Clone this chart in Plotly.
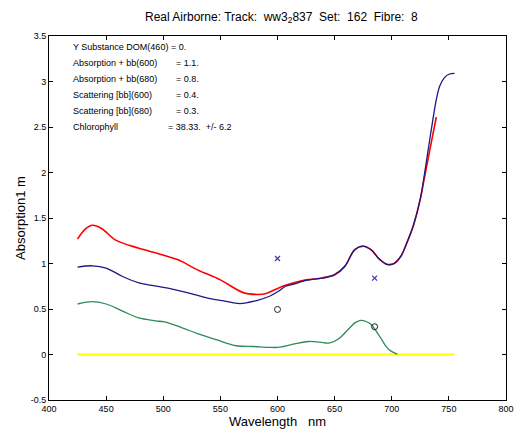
import plotly.graph_objects as go

# ---- data ----
red_wl = [425, 432, 438, 446, 458, 478, 498, 513, 530, 550, 570, 583, 590, 599, 607, 615, 625, 639, 650, 659, 667.5, 675, 682, 689, 696, 702, 708, 713, 719, 725, 729, 733.5, 739]
red_y = [1.27, 1.38, 1.42, 1.385, 1.26, 1.17, 1.10, 1.04, 0.93, 0.82, 0.68, 0.66, 0.67, 0.72, 0.76, 0.79, 0.82, 0.84, 0.88, 0.97, 1.15, 1.19, 1.15, 1.05, 0.99, 1.00, 1.08, 1.22, 1.42, 1.71, 1.97, 2.26, 2.61]

blue_wl = [425, 438, 450, 464, 478, 490, 507, 521, 541, 553, 567, 581, 593, 601.5, 607, 615, 625, 639, 650, 659, 667.5, 675, 682, 689, 696, 702, 708, 713, 719, 725, 728, 732, 736, 739, 742, 746, 750, 755]
blue_y = [0.96, 0.975, 0.95, 0.86, 0.79, 0.76, 0.72, 0.68, 0.615, 0.59, 0.56, 0.59, 0.64, 0.70, 0.75, 0.775, 0.815, 0.84, 0.875, 0.97, 1.15, 1.19, 1.15, 1.05, 0.99, 1.00, 1.08, 1.22, 1.42, 1.71, 1.93, 2.26, 2.58, 2.80, 2.95, 3.04, 3.08, 3.09]

green_wl = [425, 438, 450, 464, 478, 493, 501, 516, 530, 547, 564, 579, 593, 602, 616, 627, 637, 645, 653, 662, 668, 673, 678, 682, 690, 695, 699, 705]
green_y = [0.555, 0.58, 0.555, 0.48, 0.405, 0.37, 0.358, 0.296, 0.23, 0.16, 0.096, 0.088, 0.078, 0.08, 0.12, 0.143, 0.135, 0.125, 0.168, 0.277, 0.35, 0.375, 0.36, 0.33, 0.187, 0.09, 0.04, 0.005]

zero_wl = [425, 755]
zero_y = [0, 0]

x_marks_wl = [600, 685]
x_marks_y = [1.055, 0.84]
o_marks_wl = [600, 685]
o_marks_y = [0.495, 0.305]

info_labels = ["Y Substance DOM(460) = 0.", "Absorption + bb(600)", "Absorption + bb(680)",
               "Scattering [bb](600)", "Scattering [bb](680)", "Chlorophyll"]
info_values = ["", "= 1.1.", "= 0.8.", "= 0.4.", "= 0.3.", "= 38.33.  +/- 6.2"]

x_ticks = [400, 450, 500, 550, 600, 650, 700, 750, 800]
y_ticks = [-0.5, 0, 0.5, 1, 1.5, 2, 2.5, 3, 3.5]

FONT = "Liberation Sans, Arial, sans-serif"

fig = go.Figure()
fig.add_trace(go.Scatter(x=zero_wl, y=zero_y, mode="lines",
                         line=dict(color="#ffff00", width=2), showlegend=False))
fig.add_trace(go.Scatter(x=green_wl, y=green_y, mode="lines", line_shape="spline",
                         line=dict(color="#2e8b57", width=1.3), showlegend=False))
fig.add_trace(go.Scatter(x=red_wl, y=red_y, mode="lines", line_shape="spline",
                         line=dict(color="#ff0000", width=1.6), showlegend=False))
fig.add_trace(go.Scatter(x=blue_wl, y=blue_y, mode="lines", line_shape="spline",
                         line=dict(color="#1a1a80", width=1.3), showlegend=False))
fig.add_trace(go.Scatter(x=x_marks_wl, y=x_marks_y, mode="markers",
                         marker=dict(symbol="x-thin", size=5, line=dict(color="#3a3aa0", width=1.2)),
                         showlegend=False))
fig.add_trace(go.Scatter(x=o_marks_wl, y=o_marks_y, mode="markers",
                         marker=dict(symbol="circle-open", size=6, color="#222222", line=dict(width=1)),
                         showlegend=False))

y0 = 3.383
dy = 0.176
for i, (lab, val) in enumerate(zip(info_labels, info_values)):
    yy = y0 - i * dy
    fig.add_annotation(x=419.5, y=yy, text=lab, showarrow=False, xanchor="left", yanchor="middle",
                       font=dict(family=FONT, size=9, color="#000"))
    if val:
        xv = 502 if i == 5 else 509
        fig.add_annotation(x=xv, y=yy, text=val, showarrow=False, xanchor="left", yanchor="middle",
                           font=dict(family=FONT, size=9, color="#000"))

axis_common = dict(showline=True, linecolor="#000", linewidth=1, mirror="ticks",
                   ticks="inside", ticklen=4, tickcolor="#000", showgrid=False, zeroline=False,
                   tickfont=dict(family=FONT, size=9, color="#000"))

fig.update_layout(
    width=524, height=433,
    margin=dict(l=49, r=10, t=36, b=30),
    paper_bgcolor="white", plot_bgcolor="white",
    title=dict(text="Real Airborne: Track:  ww3<sub>2</sub>837  Set:  162  Fibre:  8",
               x=0.537, xanchor="center", y=0.962, yanchor="middle",
               font=dict(family=FONT, size=12, color="#000")),
    xaxis=dict(range=[400, 800], tickvals=x_ticks, ticktext=[str(v) for v in x_ticks],
               title=dict(text="Wavelength   nm", standoff=0, font=dict(family=FONT, size=13, color="#000")),
               ticklabelstandoff=0, **axis_common),
    yaxis=dict(range=[-0.5, 3.5], tickvals=y_ticks, ticktext=["-0.5", "0", "0.5", "1", "1.5", "2", "2.5", "3", "3.5"],
               title=dict(text="Absorption1 m", standoff=2, font=dict(family=FONT, size=13, color="#000")),
               **axis_common),
)

fig.write_html("out.html")
